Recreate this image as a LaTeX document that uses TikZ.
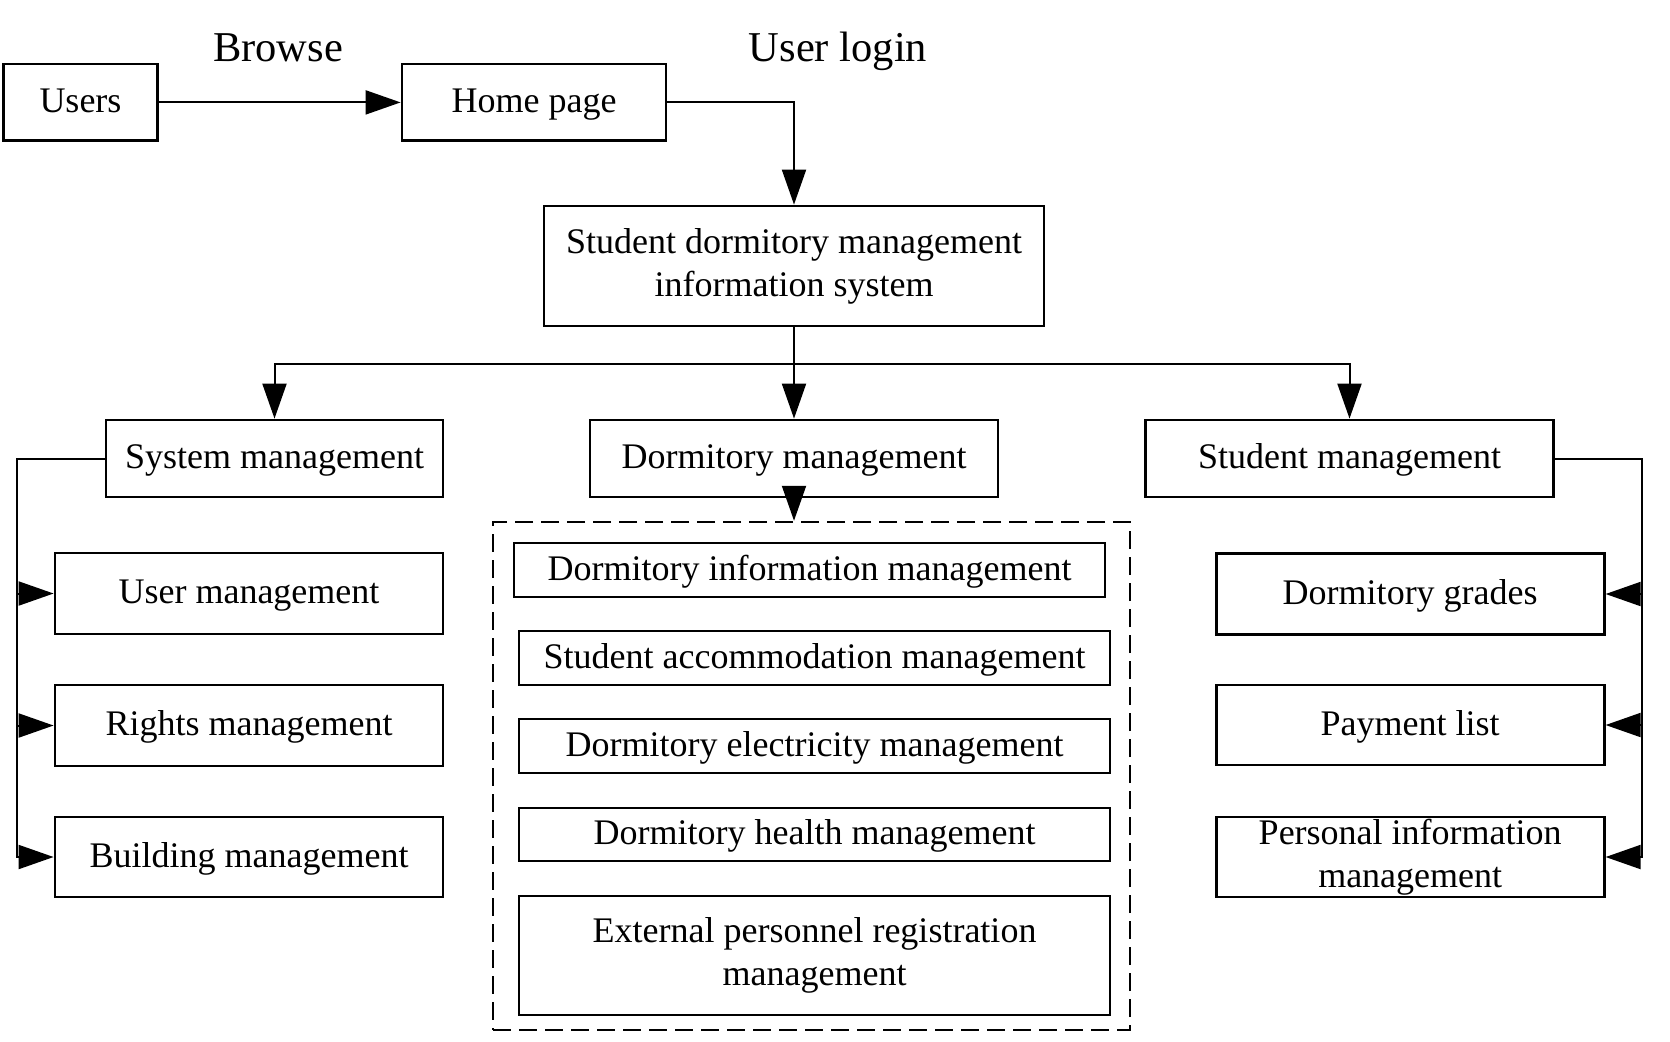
\documentclass[tikz,border=0pt]{standalone}
\usepackage{fontspec}
\setmainfont{Liberation Serif}
\usetikzlibrary{arrows.meta}
\begin{document}
\begin{tikzpicture}[x=0.5pt,y=-0.5pt,
  box/.style={draw, line width=1.4pt, inner sep=0pt, font=\fontsize{18}{21.5}\selectfont, text height=14pt, text depth=4pt},
  box2/.style={draw, line width=1.4pt, inner sep=0pt, align=center, font=\fontsize{18}{21.5}\selectfont},
  lbl/.style={font=\fontsize{21.25}{25}\selectfont, inner sep=0pt, anchor=base},
  conn/.style={line width=1pt},
  arr/.style={conn, -{Triangle[length=17.5pt,width=12pt]}},
  grpbox/.style={draw, line width=1.25pt, dash pattern=on 9pt off 4pt, inner sep=0pt}]
\useasboundingbox (0,0) rectangle (1670,1041);

% top row
\node[box, minimum width=77pt, minimum height=38.4pt] (users) at (80.5,102.4) {Users};
\node[box, minimum width=132pt, minimum height=38.4pt] (home) at (534,102.4) {Home page};
\node[lbl] (browse) at (278,61) {Browse};
\node[lbl] (login) at (838,61) {User login};

% central system
\node[box2, minimum width=250pt, minimum height=60pt] (sys) at (794,266) {Student dormitory management\\information system};

% second level
\node[box, minimum width=168.5pt, minimum height=38.5pt] (sysm) at (274.5,458.5) {System management};
\node[box, minimum width=204pt, minimum height=38.5pt] (dorm) at (794,458.5) {Dormitory management};
\node[box, minimum width=204.3pt, minimum height=38.5pt] (stud) at (1349.5,458.5) {Student management};

% left children
\node[box, minimum width=194pt, minimum height=40.5pt] (um) at (249,593.5) {User management};
\node[box, minimum width=194pt, minimum height=40.5pt] (rm) at (249,725.5) {Rights management};
\node[box, minimum width=194pt, minimum height=40pt] (bm) at (249,857) {Building management};

% right children
\node[box, minimum width=194pt, minimum height=40.5pt] (dg) at (1410.2,594) {Dormitory grades};
\node[box, minimum width=194pt, minimum height=40pt] (pl) at (1410.2,725) {Payment list};
\node[box2, minimum width=194pt, minimum height=40pt] (pi) at (1410.2,857) {Personal information\\management};

% dormitory group
\node[grpbox, minimum width=318.5pt, minimum height=254pt] (grp) at (811.5,776) {};
\node[box, minimum width=295.5pt, minimum height=27pt] (di) at (809.5,570) {Dormitory information management};
\node[box, minimum width=295.5pt, minimum height=27pt] (sa) at (814.5,658) {Student accommodation management};
\node[box, minimum width=295.5pt, minimum height=27pt] (de) at (814.5,746) {Dormitory electricity management};
\node[box, minimum width=295.5pt, minimum height=26.5pt] (dh) at (814.5,834.5) {Dormitory health management};
\node[box2, minimum width=295.5pt, minimum height=59.5pt] (ep) at (814.5,955.5) {External personnel registration\\management};

% connectors
\draw[arr] (users.east) -- (home.west);
\draw[arr] (home.east) -| (sys.north);
\coordinate (br) at (794,364);
\draw[arr] (sys.south) -- (dorm.north);
\draw[arr] (br) -| (sysm.north);
\draw[arr] (br) -| (stud.north);
\draw[arr] (dorm.south) -- (dorm.south |- grp.north);

\coordinate (lx) at (17,458.5);
\draw[arr] (sysm.west) -| (lx |- bm.west) -- (bm.west);
\draw[arr] (lx |- um.west) -- (um.west);
\draw[arr] (lx |- rm.west) -- (rm.west);

\coordinate (rx) at (1641.5,458.5);
\draw[arr] (stud.east) -| (rx |- pi.east) -- (pi.east);
\draw[arr] (rx |- dg.east) -- (dg.east);
\draw[arr] (rx |- pl.east) -- (pl.east);
\end{tikzpicture}
\end{document}
